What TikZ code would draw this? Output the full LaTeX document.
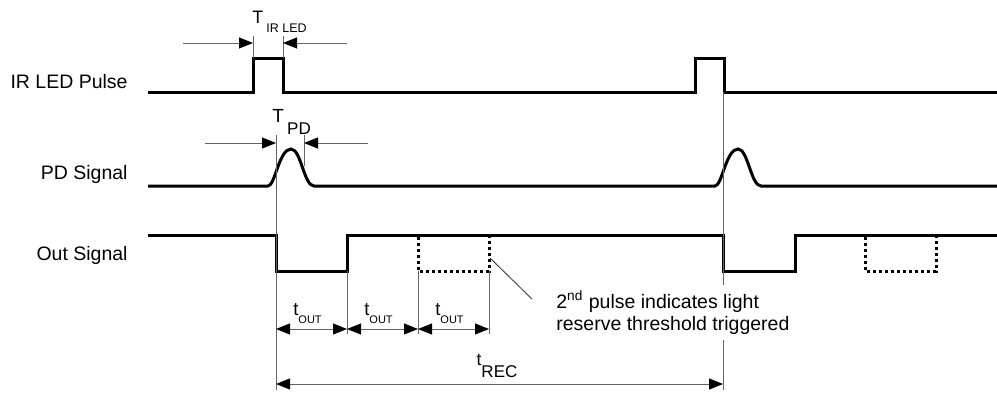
\documentclass[tikz,border=0pt]{standalone}
\usepackage{fontspec}
\setmainfont{Liberation Sans}
\usetikzlibrary{arrows.meta}

\begin{document}
\begin{tikzpicture}[x=.5pt, y=-.5pt, font=\fontsize{9.75}{11}\selectfont,
    sig/.style={line width=1.5pt},
    dots/.style={line width=1.5pt, dash pattern=on 1.5pt off 1.5pt},
    guide/.style={line width=.5pt, draw=black!60},
    tip/.style={-{Triangle[length=7pt,width=5.5pt,color=black]}},
    tips/.style={{Triangle[length=7pt,width=5.5pt,color=black]}-{Triangle[length=7pt,width=5.5pt,color=black]}}]
    \useasboundingbox (0,0) rectangle (997,392);
    % signal names
    \node[anchor=base east, inner sep=0] (irled) at (128,88) {IR LED Pulse};
    \node[anchor=base east, inner sep=0] (pdsig) at (128,179) {PD Signal};
    \node[anchor=base east, inner sep=0] (outsig) at (128,260) {Out Signal};
    % traces
    \draw[sig] (148,92) -- (253,92) -- (253,58) -- (283,58) -- (283,92) -- (695,92)
      -- (695,58) -- (724,58) -- (724,92) -- (997,92);
    \draw[sig] (148,186) -- (268,186)
      .. controls (275,186) and (279,149) .. (291,149)
      .. controls (301,149) and (304,186) .. (314,186) -- (715,186)
      .. controls (722,186) and (726,149) .. (738,149)
      .. controls (748,149) and (751,186) .. (761,186) -- (997,186);
    \draw[sig] (148,235) -- (276,235) -- (276,271) -- (347,271) -- (347,235) -- (723,235)
      -- (723,271) -- (795,271) -- (795,235) -- (997,235);
    \foreach \x in {418,865}
      \draw[dots] (\x,237) -- (\x,271) -- (\x+71,271) -- (\x+71,237);
    % guide lines
    \foreach \x in {253,283}
      \draw[guide] (\x,36) -- (\x,58);
    \draw[guide] (276,135) -- (276,390);
    \draw[guide] (304,135) -- (304,166);
    \foreach \x in {347,418,489}
      \draw[guide] (\x,271) -- (\x,334);
    \draw[guide] (723,92) -- (723,390);
    % widths
    \draw[guide, tip] (183,43) -- (253,43);
    \draw[guide, tip] (347,43) -- (283,43);
    \node[anchor=base west, inner sep=0] (tirled) at (252,23)
      {\fontsize{9}{9}\selectfont T\,\raisebox{-4.5pt}{\fontsize{6.25}{7}\selectfont IR LED}};
    \draw[guide, tip] (205,143) -- (276,143);
    \draw[guide, tip] (368,143) -- (304,143);
    \node[anchor=base west, inner sep=0] (tpd) at (272,122)
      {\fontsize{9.5}{9}\selectfont T\,\raisebox{-6.3pt}{\fontsize{8.5}{9}\selectfont PD}};
    \foreach \a/\b in {276/347,347/418,418/489} {
      \draw[guide, tips] (\a,329) -- (\b,329);
      \node[anchor=base, inner sep=0] (tout\a) at ({(\a+\b)/2-4},315)
        {\fontsize{9.25}{9}\selectfont t\raisebox{-4pt}{\fontsize{5.5}{6}\selectfont OUT}};
    }
    \draw[guide, tips] (276,384) -- (723,384);
    \node[anchor=base, inner sep=0] (trec) at (497,365)
      {\fontsize{8.75}{9}\selectfont t\raisebox{-6pt}{\fontsize{8.5}{9}\selectfont REC}};
    % note
    \coordinate (dotend) at (490,258);
    \node[anchor=base west, align=left, fill=white, inner sep=3pt] (note) at (550,330)
      {2\textsuperscript{nd} pulse indicates light\\reserve threshold triggered};
    \draw[guide, draw=black!70] (dotend) -- (532,299);
  \end{tikzpicture}
\end{document}
